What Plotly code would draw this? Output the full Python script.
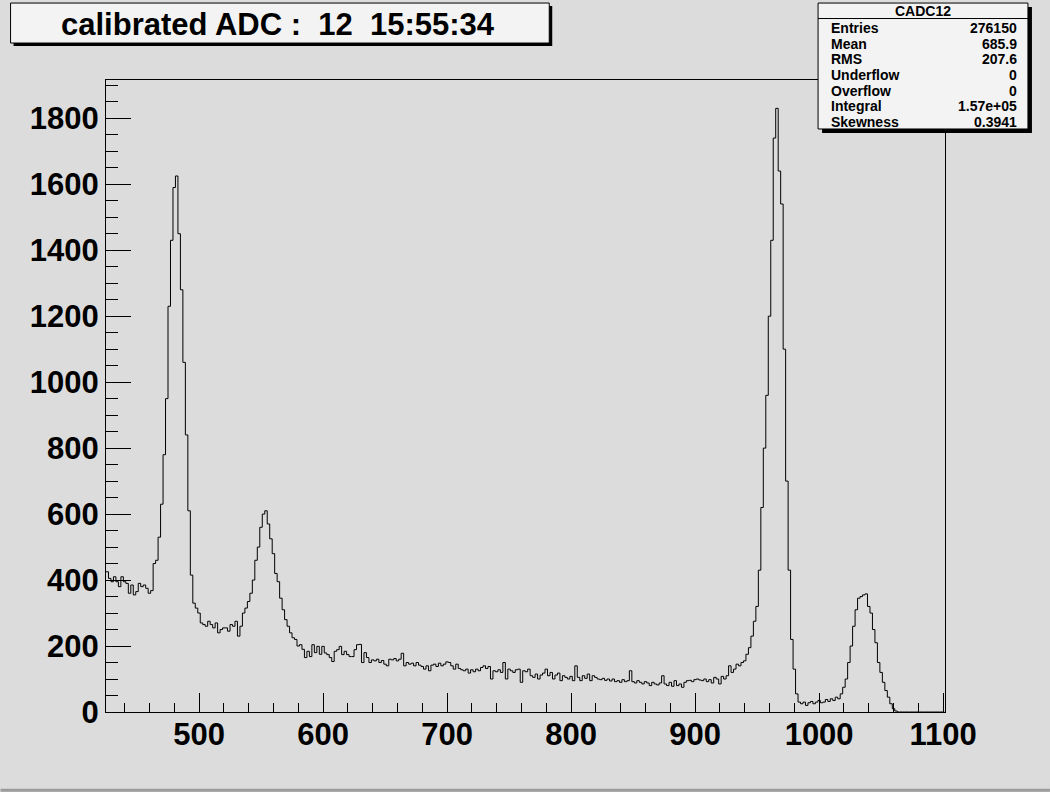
import plotly.graph_objects as go

# ---------------- data ----------------
BIN_LO = 425.0
BIN_W = 2.0

counts_426_462 = [425, 405, 395, 410, 395, 380, 410, 395, 390, 360,
                  385, 355, 365, 390, 380, 385, 375, 360, 368]
counts_464_498 = [450, 460, 530, 630, 780, 950, 1230, 1430, 1590, 1625,
                  1450, 1280, 1060, 840, 610, 415, 330, 315]
counts_500_538 = [300, 270, 265, 260, 275, 265, 255, 270, 240, 250,
                  255, 255, 245, 265, 260, 275, 230, 260, 300, 315]
counts_540_580 = [335, 360, 400, 460, 500, 560, 600, 610, 570, 525,
                  480, 420, 395, 345, 310, 280, 260, 240, 225, 220, 200]
counts_582_628 = [204, 190, 165, 184, 168, 204, 180, 199, 175, 199,
                  179, 174, 165, 153, 184, 189, 199, 174, 184, 174,
                  168, 168, 189, 204]
counts_630_936 = [205, 150, 180, 165, 150, 158, 155, 160, 150, 156,
                  145, 140, 160, 158, 162, 155, 160, 178, 140, 150,
                  145, 148, 140, 150, 142, 138, 130, 140, 125, 142,
                  145, 138, 148, 140, 145, 152, 150, 140, 130, 145,
                  132, 128, 125, 130, 118, 128, 122, 130, 125, 135,
                  140, 132, 138, 100, 125, 122, 128, 120, 150, 100,
                  130, 125, 120, 128, 130, 90, 125, 122, 130, 110,
                  105, 115, 100, 112, 118, 130, 110, 120, 100, 112,
                  118, 95, 110, 105, 100, 108, 95, 140, 105, 95,
                  110, 102, 115, 95, 110, 105, 100, 98, 102, 96,
                  100, 94, 100, 92, 95, 90, 98, 92, 95, 125,
                  92, 88, 95, 90, 85, 92, 88, 80, 90, 85,
                  82, 88, 110, 85, 80, 90, 78, 95, 80, 85,
                  75, 90, 95, 96, 92, 98, 100, 97, 95, 100,
                  92, 98, 88, 105, 100, 85, 108, 100, 110, 140,
                  120, 130, 145, 140]
counts_938_1062 = [150, 155, 175, 195, 230, 275, 320, 430, 620, 800,
                   960, 1200, 1430, 1740, 1830, 1640, 1540, 1100, 700, 430,
                   220, 130, 55, 30, 25, 30, 20, 28, 32, 25,
                   30, 35, 28, 30, 38, 32, 40, 35, 45, 40,
                   55, 75, 100, 150, 200, 260, 310, 345, 350, 355,
                   358, 320, 300, 250, 210, 150, 120, 90, 65, 45,
                   25, 10, 3]
counts_1064_1100 = [0] * 19

x_tick_step = 100
y_tick_step = 200
x_range = [425.0, 1101.5]
y_range = [0, 1916]

title_text = "calibrated ADC :\u00a0\u00a012\u00a0\u00a015:55:34"
stats_name = "CADC12"
stats_labels = ["Entries", "Mean", "RMS", "Underflow", "Overflow", "Integral", "Skewness"]
stats_values = ["276150", "685.9", "207.6", "0", "0", "1.57e+05", "0.3941"]

counts = (counts_426_462 + counts_464_498 + counts_500_538 + counts_540_580 +
          counts_582_628 + counts_630_936 + counts_938_1062 + counts_1064_1100)
edges = [BIN_LO + i * BIN_W for i in range(len(counts) + 1)]
ys = counts + [counts[-1]]

# ---------------- layout geometry (pixels) ----------------
W, H = 1050, 792
PL, PR, PT, PB = 105.5, 945.0, 80.0, 712.3


def px(x):
    return (x - PL) / (PR - PL)


def py(y):
    return (PB - y) / (PB - PT)


BG = "#dcdcdc"
BOX = "#f3f3f3"
FONT = "Liberation Sans, Arial, sans-serif"

fig = go.Figure()
fig.add_trace(go.Scatter(
    x=edges, y=ys, mode="lines",
    line=dict(color="black", width=1, shape="hv"),
    hoverinfo="skip", showlegend=False,
))

axis_common = dict(
    showgrid=False, zeroline=False, showline=True, linecolor="black",
    linewidth=1, mirror=True, ticks="inside", tickcolor="black", tickwidth=1,
    tickfont=dict(family=FONT, size=31, color="black", weight=700),
)
fig.update_xaxes(range=x_range, tick0=0, dtick=x_tick_step, ticklen=19,
                 ticklabelstandoff=-5,
                 minor=dict(dtick=20, ticks="inside", ticklen=9,
                            tickcolor="black", showgrid=False),
                 **axis_common)
fig.update_yaxes(range=y_range, tick0=0, dtick=y_tick_step, ticklen=25,
                 minor=dict(dtick=50, ticks="inside", ticklen=12,
                            tickcolor="black", showgrid=False),
                 **axis_common)

shapes = []


def rect(x0, y0, x1, y1, fill, line_color=None, lw=0):
    shapes.append(dict(
        type="rect", xref="paper", yref="paper", layer="above",
        x0=px(x0), x1=px(x1), y0=py(y1), y1=py(y0),
        fillcolor=fill,
        line=dict(color=line_color or fill, width=lw),
    ))


# title box with shadow
rect(13, 6, 552, 46, "black")
rect(10, 3, 549, 43, BOX, "black", 1)
# stats box with shadow
rect(822, 7, 1032, 133, "black")
rect(818, 3, 1028, 129, BOX, "black", 1)
shapes.append(dict(type="line", xref="paper", yref="paper", layer="above",
                   x0=px(818), x1=px(1028), y0=py(18.5), y1=py(18.5),
                   line=dict(color="black", width=1)))
# canvas bottom bevel
rect(0, 789, 1050, 792, "#9c9c9c")

annotations = [dict(
    xref="paper", yref="paper", x=px(278), y=py(24), text=title_text,
    showarrow=False, xanchor="center", yanchor="middle",
    font=dict(family=FONT, size=31, color="black", weight=700),
)]
annotations.append(dict(
    xref="paper", yref="paper", x=px(923), y=py(11), text=stats_name,
    showarrow=False, xanchor="center", yanchor="middle",
    font=dict(family=FONT, size=14, color="black", weight=700),
))
row_y = [28.3, 43.8, 59.4, 75.0, 90.6, 106.2, 122.0]
for lab, val, yy in zip(stats_labels, stats_values, row_y):
    annotations.append(dict(
        xref="paper", yref="paper", x=px(829), y=py(yy), text=lab,
        showarrow=False, xanchor="left", yanchor="middle",
        font=dict(family=FONT, size=14, color="black", weight=700),
    ))
    annotations.append(dict(
        xref="paper", yref="paper", x=px(1019), y=py(yy), text=val,
        showarrow=False, xanchor="right", yanchor="middle",
        font=dict(family=FONT, size=14, color="black", weight=700),
    ))

fig.update_layout(
    width=W, height=H, autosize=False,
    margin=dict(l=PL, r=W - PR, t=PT, b=H - PB, pad=0),
    paper_bgcolor=BG, plot_bgcolor=BG,
    shapes=shapes, annotations=annotations, showlegend=False,
)

fig.write_html("out.html", config={"displayModeBar": False},
               post_script="document.body.style.margin='0';document.body.style.overflow='hidden';")
